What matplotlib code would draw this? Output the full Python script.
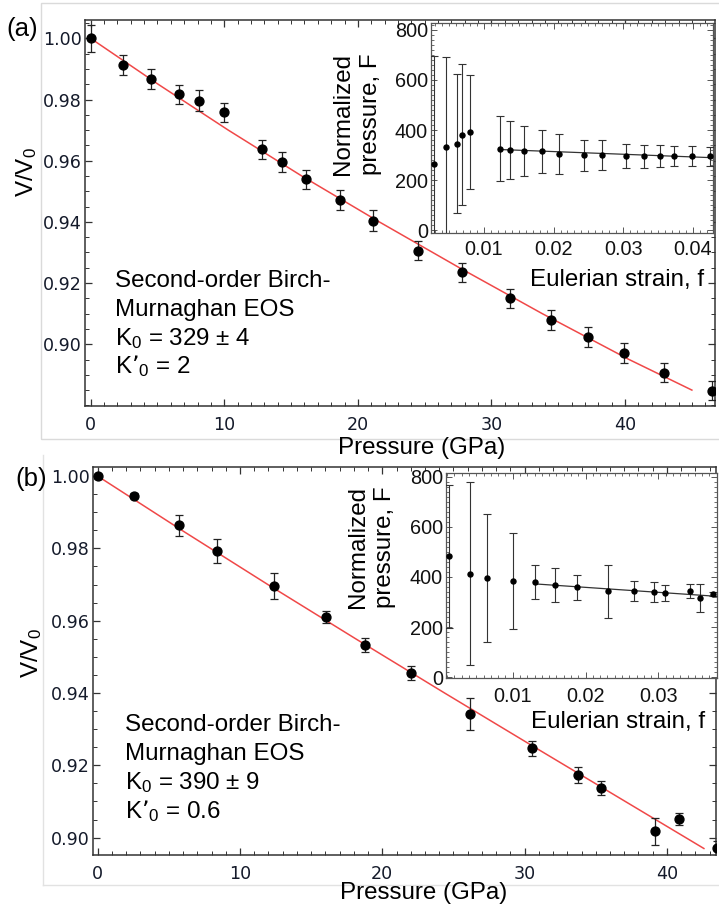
import matplotlib
matplotlib.use('Agg')
import matplotlib.pyplot as plt
from matplotlib.ticker import MultipleLocator, FixedLocator, FormatStrFormatter
from matplotlib.patches import Rectangle
from matplotlib.lines import Line2D

plt.rcParams['font.family'] = ['Liberation Sans', 'DejaVu Sans']
plt.rcParams['mathtext.default'] = 'regular'

# ---------------- data ----------------
# panel (a) main
P_a = [0.0, 2.4, 4.55, 6.6, 8.1, 10.0, 12.8, 14.3, 16.1, 18.7, 21.1, 24.5, 27.8, 31.4, 34.45, 37.2, 39.9, 42.9, 46.5]
V_a = [1.000, 0.9913, 0.9867, 0.9817, 0.9796, 0.9758, 0.9637, 0.9596, 0.9539, 0.9472, 0.9404,
       0.9306, 0.9235, 0.9150, 0.9079, 0.9024, 0.8971, 0.8907, 0.8848]
dV_a = [0.0044, 0.0032, 0.0032, 0.0032, 0.0035, 0.0032, 0.0032, 0.0032, 0.0032, 0.0033, 0.0034,
        0.0032, 0.0032, 0.0032, 0.0032, 0.0032, 0.0032, 0.0032, 0.0032]
fitP_a = [0.0, 5.05, 10.3, 15.8, 21.6, 27.6, 33.8, 40.3, 45.0]
fitV_a = [1.000, 0.985, 0.970, 0.955, 0.940, 0.925, 0.910, 0.895, 0.885]

# panel (a) inset
f_a = [0.00281, 0.00449, 0.00607, 0.00679, 0.00803, 0.0123, 0.01378, 0.0158, 0.0183, 0.02083,
       0.02434, 0.0270, 0.03043, 0.03306, 0.03532, 0.03738, 0.03989, 0.04242]
F_a = [264, 334, 346, 382, 393, 326, 321, 316, 315, 306, 300, 301, 297, 295, 296, 296, 296, 296]
dF_a = [433, 357, 278, 281, 228, 130, 116, 101, 85, 80, 62, 60, 49, 45, 43, 41, 40, 38]
fitf_a = [0.0123, 0.0431]
fitF_a = [322, 289]

# panel (b) main
P_b = [0.0, 2.55, 5.74, 8.38, 12.37, 16.04, 18.78, 22.0, 26.19, 30.54, 33.75, 35.35, 39.14, 40.85, 43.5]
V_b = [1.000, 0.9946, 0.9864, 0.9794, 0.9696, 0.9610, 0.9532, 0.9455, 0.9342, 0.9247, 0.9174,
       0.9137, 0.9018, 0.9052, 0.8970]
dV_b = [0.0007, 0.0006, 0.0029, 0.0033, 0.0035, 0.0017, 0.0019, 0.0019, 0.0045, 0.0021, 0.0022,
        0.0019, 0.0037, 0.0017, 0.0020]
fitP_b = [0.0, 5.92, 11.96, 18.13, 24.38, 30.71, 37.08, 42.6]
fitV_b = [1.000, 0.985, 0.970, 0.955, 0.940, 0.925, 0.910, 0.897]

# panel (b) inset
f_b = [0.00125, 0.00413, 0.00651, 0.01008, 0.01306, 0.01581, 0.01888, 0.02305, 0.02666, 0.02945,
       0.03092, 0.03436, 0.03577, 0.03755]
F_b = [482, 413, 396, 384, 379, 366, 359, 343, 342, 339, 335, 343, 317, 330]
dF_b = [285, 365, 254, 190, 68, 68, 50, 106, 40, 41, 33, 28, 55, 8]
fitf_b = [0.0131, 0.0378]
fitF_b = [372, 323]

main_yticks = [0.90, 0.92, 0.94, 0.96, 0.98, 1.00]
main_xticks = [0, 10, 20, 30, 40]
inset_yticks = [0, 200, 400, 600, 800]
text_a = ['Second-order Birch-', 'Murnaghan EOS', 'K$_0$ = 329 ± 4', 'K’$_0$ = 2']
text_b = ['Second-order Birch-', 'Murnaghan EOS', 'K$_0$ = 390 ± 9', 'K’$_0$ = 0.6']

# ---------------- figure ----------------
W, H = 719, 909
fig = plt.figure(figsize=(W / 100, H / 100), dpi=100)


def rect(l, t, r, b):
    return [l / W, 1 - b / H, (r - l) / W, (b - t) / H]


def ftext(x, y, s, **kw):
    return fig.text(x / W, 1 - y / H, s, **kw)


# light gray panel frames
fig.add_artist(Rectangle((40.7 / W, 1 - 439 / H), (730 - 40.7) / W, (439 - 3) / H,
                         transform=fig.transFigure, fill=False, ec='#dadada', lw=1.0))
fig.add_artist(Line2D([42.7 / W, 42.7 / W], [1 - 455 / H, 1 - 885 / H], transform=fig.transFigure,
                      color='#e2e2e2', lw=1.0))
fig.add_artist(Line2D([42.7 / W, 1.0], [1 - 885 / H, 1 - 885 / H], transform=fig.transFigure,
                      color='#e2e2e2', lw=1.0))


def main_axes(r, xlim, ylim, P, V, dV, fp, fv):
    ax = fig.add_axes(r)
    ax.plot(fp, fv, color='#f04848', lw=1.1, zorder=2)
    ax.errorbar(P, V, yerr=dV, fmt='o', color='black', ms=6.4, ecolor='#222222',
                elinewidth=0.9, capsize=3.2, capthick=0.9, zorder=3)
    ax.set_xlim(*xlim)
    ax.set_ylim(*ylim)
    ax.xaxis.set_major_locator(FixedLocator(main_xticks))
    ax.xaxis.set_minor_locator(MultipleLocator(1))
    ax.yaxis.set_major_locator(FixedLocator(main_yticks))
    ax.yaxis.set_minor_locator(MultipleLocator(0.005))
    ax.yaxis.set_major_formatter(FormatStrFormatter('%.2f'))
    ax.tick_params(which='both', direction='in', top=True, right=True, color='#333333',
                   labelsize=12.6, labelcolor='#141a2a', labelfontfamily='DejaVu Sans')
    ax.tick_params(which='major', length=5, width=0.9)
    ax.tick_params(which='minor', length=2.6, width=0.7)
    ax.tick_params(axis='x', which='major', pad=7.0)
    ax.tick_params(axis='y', which='major', pad=2.3)
    for s in ax.spines.values():
        s.set_color('#333333')
        s.set_linewidth(1.1)
    return ax


def inset_axes(r, xlim, ylim, f, F, dF, ff, fF, xpad):
    ax = fig.add_axes(r, zorder=5)
    ax.set_facecolor('white')
    ax.plot(ff, fF, color='#333333', lw=0.9, zorder=2)
    ax.errorbar(f, F, yerr=dF, fmt='o', color='black', ms=3.6, ecolor='#333333',
                elinewidth=0.8, capsize=2.6, capthick=0.8, zorder=3)
    ax.set_xlim(*xlim)
    ax.set_ylim(*ylim)
    ax.xaxis.set_major_locator(MultipleLocator(0.01))
    ax.xaxis.set_minor_locator(MultipleLocator(0.001))
    ax.yaxis.set_major_locator(FixedLocator(inset_yticks))
    ax.yaxis.set_minor_locator(MultipleLocator(20))
    ax.xaxis.set_major_formatter(FormatStrFormatter('%.2f'))
    ax.tick_params(which='both', direction='in', top=True, right=True, color='#555555',
                   labelsize=14.3, labelcolor='#111111')
    ax.tick_params(which='major', length=4, width=0.7)
    ax.tick_params(which='minor', length=2, width=0.6)
    ax.tick_params(axis='x', which='major', pad=xpad)
    ax.tick_params(axis='y', which='major', pad=2.0)
    for s in ax.spines.values():
        s.set_color('#555555')
        s.set_linewidth(0.9)
    return ax


# ---- panel (a)
ax_a = main_axes(rect(85.3, 20, 715, 406), (-0.40, 46.73), (0.8798, 1.006),
                 P_a, V_a, dV_a, fitP_a, fitV_a)
in_a = inset_axes(rect(430.7, 22.7, 713, 233.3), (0.00234, 0.04292), (-13, 829),
                  f_a, F_a, dF_a, fitf_a, fitF_a, 5.0)

# ---- panel (b)
ax_b = main_axes(rect(92.7, 466.7, 716, 855), (-0.35, 43.45), (0.8952, 1.0026),
                 P_b, V_b, dV_b, fitP_b, fitV_b)
in_b = inset_axes(rect(445.7, 473.3, 716.7, 678), (0.0008, 0.0380), (-3, 813),
                  f_b, F_b, dF_b, fitf_b, fitF_b, 6.2)

# ---------------- labels ----------------
FS = 17.4
ftext(22.5, 29, '(a)', ha='center', va='center', fontsize=18.5)
ftext(31, 479.5, '(b)', ha='center', va='center', fontsize=18.5)

ftext(27, 172, 'V/V$_0$', ha='center', va='center', rotation=90, fontsize=FS)
ftext(32, 653, 'V/V$_0$', ha='center', va='center', rotation=90, fontsize=FS)

ftext(422, 448, 'Pressure (GPa)', ha='center', va='center', fontsize=FS)
ftext(424, 893, 'Pressure (GPa)', ha='center', va='center', fontsize=FS)

ftext(616.7, 280, 'Eulerian strain, f', ha='center', va='center', fontsize=FS, zorder=6)
ftext(618, 721.7, 'Eulerian strain, f', ha='center', va='center', fontsize=FS, zorder=6)

ftext(357, 114, 'Normalized\npressure, F', ha='center', va='center', rotation=90,
      fontsize=FS, multialignment='center', linespacing=1.3, zorder=6)
ftext(371.7, 546.7, 'Normalized\npressure, F', ha='center', va='center', rotation=90,
      fontsize=FS, multialignment='center', linespacing=1.3, zorder=6)

for s, yb in zip(text_a, [287.3, 316, 345, 373.3]):
    ftext(115, yb, s, ha='left', va='baseline', fontsize=FS)
for s, yb in zip(text_b, [731, 760, 789, 817.7]):
    ftext(125, yb, s, ha='left', va='baseline', fontsize=FS)

fig.savefig('out.png', dpi=100)
